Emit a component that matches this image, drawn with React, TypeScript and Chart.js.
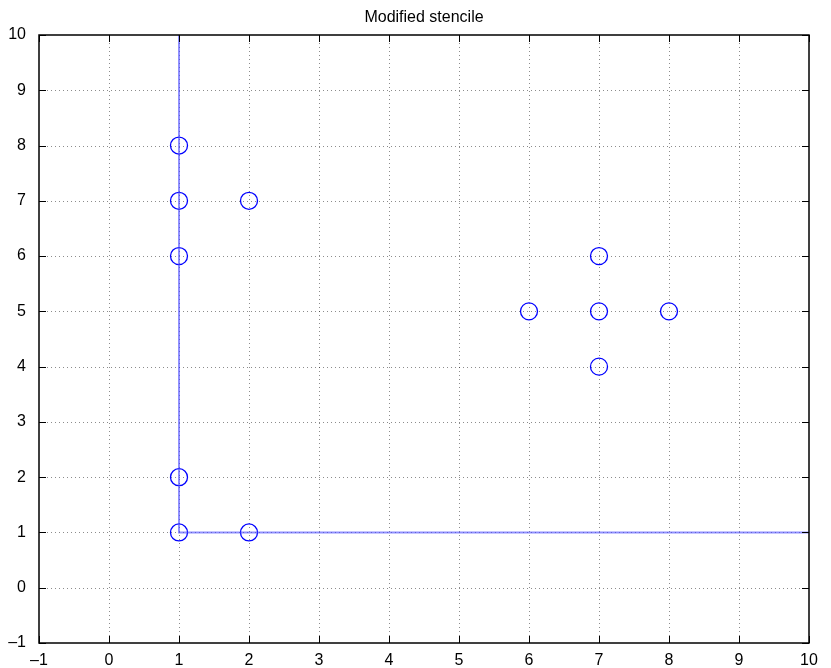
import React, { useEffect, useRef } from "react";
import { Chart, registerables } from "chart.js";

Chart.register(...registerables);

const titleText = "Modified stencile";
const xTicks = [-1, 0, 1, 2, 3, 4, 5, 6, 7, 8, 9, 10];
const yTicks = [-1, 0, 1, 2, 3, 4, 5, 6, 7, 8, 9, 10];
const lineX = [1, 1, 10];
const lineY = [10, 1, 1];
const circleX = [1, 1, 1, 2, 1, 1, 2, 6, 7, 7, 8, 7];
const circleY = [8, 7, 6, 7, 2, 1, 1, 5, 6, 5, 5, 4];

const FONT = "'Liberation Sans', Arial, sans-serif";
const fmt = (v: number) => (v < 0 ? "\u2013" + Math.abs(v) : String(v));

const framePlugin = {
  id: "matlabFrame",
  beforeDatasetsDraw(chart: any) {
    const { ctx, chartArea: a, scales } = chart;
    const xs = scales.x;
    const ys = scales.y;
    ctx.save();
    ctx.strokeStyle = "rgba(0,0,0,0.45)";
    ctx.lineWidth = 1;
    ctx.setLineDash([1, 3]);
    xTicks.forEach((v) => {
      if (v === xTicks[0] || v === xTicks[xTicks.length - 1]) return;
      const px = Math.round(xs.getPixelForValue(v)) + 0.5;
      ctx.beginPath();
      ctx.moveTo(px, a.top);
      ctx.lineTo(px, a.bottom);
      ctx.stroke();
    });
    yTicks.forEach((v) => {
      if (v === yTicks[0] || v === yTicks[yTicks.length - 1]) return;
      const py = Math.round(ys.getPixelForValue(v)) + 0.5;
      ctx.beginPath();
      ctx.moveTo(a.left, py);
      ctx.lineTo(a.right, py);
      ctx.stroke();
    });
    ctx.restore();
  },
  afterDraw(chart: any) {
    const { ctx, chartArea: a, scales } = chart;
    const xs = scales.x;
    const ys = scales.y;
    ctx.save();
    ctx.strokeStyle = "#000";
    ctx.lineWidth = 1;
    ctx.setLineDash([]);
    const t = 7;
    xTicks.forEach((v) => {
      const px = Math.round(xs.getPixelForValue(v)) + 0.5;
      ctx.beginPath();
      ctx.moveTo(px, a.bottom);
      ctx.lineTo(px, a.bottom - t);
      ctx.moveTo(px, a.top);
      ctx.lineTo(px, a.top + t);
      ctx.stroke();
    });
    yTicks.forEach((v) => {
      const py = Math.round(ys.getPixelForValue(v)) + 0.5;
      ctx.beginPath();
      ctx.moveTo(a.left, py);
      ctx.lineTo(a.left + t, py);
      ctx.moveTo(a.right, py);
      ctx.lineTo(a.right - t, py);
      ctx.stroke();
    });
    ctx.lineWidth = 1.5;
    ctx.strokeRect(a.left, a.top, a.right - a.left, a.bottom - a.top);
    ctx.fillStyle = "#000";
    ctx.font = "16px " + FONT;
    ctx.textAlign = "center";
    ctx.textBaseline = "alphabetic";
    ctx.fillText(titleText, (a.left + a.right) / 2, 22);
    ctx.restore();
  },
};

export default function App() {
  const ref = useRef<HTMLCanvasElement>(null);
  useEffect(() => {
    document.body.style.margin = "0";
    if (!ref.current) return;
    const chart = new Chart(ref.current, {
      type: "scatter",
      data: {
        datasets: [
          {
            type: "line",
            data: lineX.map((x, i) => ({ x, y: lineY[i] })),
            borderColor: "rgba(70,70,255,0.6)",
            borderWidth: 2,
            pointRadius: 0,
            fill: false,
            tension: 0,
          } as any,
          {
            data: circleX.map((x, i) => ({ x, y: circleY[i] })),
            pointStyle: "circle",
            pointRadius: 8.5,
            pointBorderWidth: 1.3,
            pointBorderColor: "#0000ff",
            pointBackgroundColor: "rgba(0,0,0,0)",
            borderColor: "#0000ff",
            backgroundColor: "rgba(0,0,0,0)",
          } as any,
        ],
      },
      options: {
        responsive: false,
        animation: false,
        devicePixelRatio: 1,
        layout: { padding: { top: 35, right: 22, left: 0, bottom: 0 } },
        plugins: { legend: { display: false }, tooltip: { enabled: false } },
        scales: {
          x: {
            type: "linear",
            min: -1,
            max: 10,
            grid: { display: false },
            border: { display: false },
            afterBuildTicks: (s: any) => {
              s.ticks = xTicks.map((v) => ({ value: v }));
            },
            afterFit: (s: any) => {
              s.height = 25;
            },
            ticks: {
              color: "#000",
              padding: 0,
              maxRotation: 0,
              autoSkip: false,
              font: { family: FONT, size: 16 },
              callback: (v: any) => fmt(Number(v)),
            },
          },
          y: {
            type: "linear",
            min: -1,
            max: 10,
            grid: { display: false },
            border: { display: false },
            afterBuildTicks: (s: any) => {
              s.ticks = yTicks.map((v) => ({ value: v }));
            },
            afterFit: (s: any) => {
              s.width = 39;
            },
            ticks: {
              color: "#000",
              padding: 5,
              autoSkip: false,
              font: { family: FONT, size: 16 },
              callback: (v: any) => fmt(Number(v)),
            },
          },
        },
      } as any,
      plugins: [framePlugin],
    });
    return () => chart.destroy();
  }, []);
  return <canvas ref={ref} width={831} height={668} style={{ display: "block" }} />;
}
